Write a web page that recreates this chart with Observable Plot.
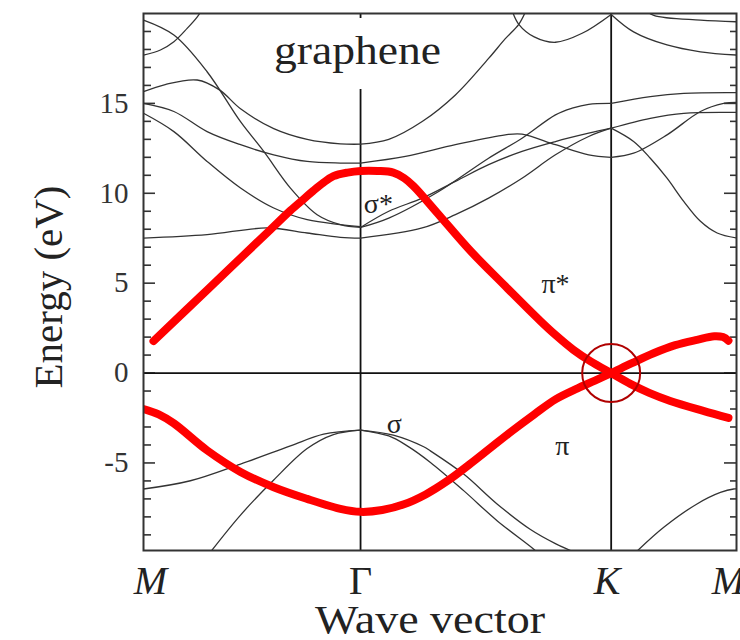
<!DOCTYPE html>
<html>
<head>
<meta charset="utf-8">
<script src="https://cdn.jsdelivr.net/npm/d3@7"></script>
<script src="https://cdn.jsdelivr.net/npm/@observablehq/plot@0.6"></script>
<style>
  body { margin: 0; background: #fff; }
  #chart svg { display: block; }
</style>
</head>
<body>
<div id="chart"></div>
<script>
// Path through the Brillouin zone: M – Γ – K – M (k in units of |ΓM|)
const symPos = [0, 1, 2.1547, 2.7321];
const symLabels = ["M", "Γ", "K", "M"];

// Energy axis (eV)
const energyTicks = [-5, 0, 5, 10, 15];
const minorTicks = [-9, -8, -7, -6, -4, -3, -2, -1, 1, 2, 3, 4, 6, 7, 8, 9,
                    11, 12, 13, 14, 16, 17, 18, 19];

// Band segments, [k, E] pairs — M–Γ
const mgA = [[0, 19.63], [0.14, 18.8], [0.293, 16.76], [0.447, 13.98], [0.554, 12.33], [0.677, 10.29], [0.8, 8.81], [0.907, 8.26], [1, 8.1]];
const mgB = [[0, 17.69], [0.078, 17.97], [0.14, 18.43], [0.201, 19.17], [0.247, 19.8], [0.275, 20.3]];
const mgC = [[0, 15.65], [0.1, 16.05], [0.247, 16.3], [0.35, 15.75], [0.447, 14.7], [0.6, 13.6], [0.754, 13.0], [0.907, 12.75], [1, 12.73]];
const mgD = [[0, 15.0], [0.14, 14.55], [0.293, 13.43], [0.447, 12.7], [0.6, 12.14], [0.754, 11.77], [0.907, 11.68], [1, 11.68]];
const mgE = [[0, 14.45], [0.14, 13.43], [0.293, 11.77], [0.447, 10.29], [0.6, 9.18], [0.754, 8.53], [0.907, 8.26], [1, 8.15]];
const mgF = [[0, 7.51], [0.293, 7.7], [0.57, 8.07], [0.754, 7.79], [0.907, 7.55], [1, 7.51]];
const mgS1 = [[0, -6.45], [0.216, -5.99], [0.447, -5.06], [0.677, -4.05], [0.83, -3.4], [1, -3.17]];
const mgS2 = [[0.309, -9.95], [0.447, -7.9], [0.6, -5.95], [0.754, -4.2], [0.875, -3.42], [1, -3.17]];

// Γ–K
const gkC = [[1, 12.73], [1.13, 13.0], [1.284, 13.99], [1.437, 15.47], [1.59, 17.5], [1.667, 18.6], [1.729, 19.4], [1.76, 20.1]];
const gkG = [[1.7, 20.1], [1.729, 19.4], [1.8, 18.7], [1.898, 18.4], [2.021, 18.9], [2.1547, 19.95]];
const gkD = [[1, 11.68], [1.207, 12.05], [1.437, 12.7], [1.667, 13.25], [1.744, 13.29], [1.898, 12.7], [2.051, 12.14], [2.1547, 12.0]];
const gkF = [[1, 7.51], [1.284, 8.07], [1.437, 8.81], [1.59, 9.73], [1.744, 10.84], [1.898, 12.14], [2.051, 13.16], [2.1547, 13.62]];
const gkE1 = [[1, 8.1], [1.13, 9.0], [1.284, 9.73], [1.437, 10.66], [1.59, 11.59], [1.744, 12.33], [1.898, 12.88], [2.051, 13.34], [2.1547, 13.62]];
const gkE2 = [[1, 8.1], [1.13, 8.62], [1.36, 10.1], [1.59, 11.95], [1.744, 13.06], [1.898, 14.36], [1.975, 14.73], [2.051, 14.95], [2.1547, 15.0]];
const gkS1 = [[1, -3.17], [1.151, -3.45], [1.291, -4.1], [1.322, -4.33], [1.475, -5.62], [1.629, -7.28], [1.783, -8.7], [1.9, -9.5], [1.982, -9.95]];
const gkS2 = [[1, -3.17], [1.13, -3.5], [1.215, -4.05], [1.322, -4.97], [1.475, -6.54], [1.629, -8.21], [1.798, -9.8], [1.81, -9.95]];

// K–M
const kmG = [[2.1547, 19.95], [2.258, 18.98], [2.412, 18.25], [2.566, 17.87], [2.7321, 17.69]];
const kmH = [[2.3, 20.3], [2.351, 19.9], [2.566, 19.63], [2.7321, 19.54]];
const kmE2 = [[2.1547, 15.0], [2.335, 15.38], [2.489, 15.56], [2.7321, 15.6]];
const kmX = [[2.1547, 13.62], [2.335, 14.17], [2.489, 14.45], [2.7321, 14.5]];
const kmF = [[2.1547, 13.62], [2.258, 12.88], [2.335, 11.95], [2.412, 10.84], [2.489, 9.55], [2.566, 8.44], [2.643, 7.79], [2.7321, 7.51]];
const kmD = [[2.1547, 12.0], [2.258, 12.23], [2.412, 13.25], [2.566, 14.55], [2.673, 15.0], [2.7321, 15.06]];
const kmS = [[2.27, -9.95], [2.397, -8.58], [2.55, -7.28], [2.658, -6.64], [2.719, -6.45], [2.7321, -6.45]];

// Highlighted π / π* (and σ*) bands
const redUpper = [[0.046, 1.78], [0.3, 4.7], [0.585, 7.98], [0.677, 9.04], [0.74, 9.7], [0.783, 10.15], [0.83, 10.6],
  [0.875, 10.95], [0.94, 11.15], [1, 11.24], [1.08, 11.24], [1.151, 11.15], [1.2, 10.85], [1.244, 10.4],
  [1.354, 8.9], [1.506, 6.8], [1.658, 4.94], [1.829, 2.89], [1.9, 2.1], [1.98, 1.3], [2.06, 0.65], [2.1547, 0],
  [2.243, -0.6], [2.33, -1.1], [2.427, -1.55], [2.579, -2.1], [2.695, -2.49]];
const redLower = [[0, -2.0], [0.07, -2.3], [0.14, -2.8], [0.293, -4.3], [0.447, -5.5], [0.6, -6.35], [0.754, -7.0],
  [0.907, -7.55], [1, -7.72], [1.1, -7.62], [1.2, -7.3], [1.3, -6.75], [1.4, -6.0], [1.5, -5.1], [1.6, -4.15],
  [1.7, -3.2], [1.8, -2.3], [1.9, -1.45], [2.0, -0.85], [2.08, -0.42], [2.1547, 0], [2.25, 0.55], [2.35, 1.1],
  [2.45, 1.55], [2.55, 1.85], [2.63, 2.05], [2.67, 2.0], [2.695, 1.8]];

// Band labels
const bandNames = ["σ*", "π*", "σ", "π"];
const bandNameK = [1.082, 1.898, 1.156, 1.93];
const bandNameE = [9.38, 4.94, -2.82, -4.05];

const toRows = (segments) => Object.entries(segments)
  .flatMap(([band, pts]) => pts.map(([k, E]) => ({band, k, E})));

const blackRows = toRows({mgA, mgB, mgC, mgD, mgE, mgF, mgS1, mgS2,
  gkC, gkG, gkD, gkF, gkE1, gkE2, gkS1, gkS2,
  kmG, kmH, kmE2, kmX, kmF, kmD, kmS});
const redRows = toRows({redUpper, redLower});
const nameRows = bandNames.map((text, i) => ({text, k: bandNameK[i], E: bandNameE[i]}));

const serif = "'Liberation Serif', 'Times New Roman', Times, serif";
const plotW = 740 - 143 - 4;

const chart = Plot.plot({
  width: 740,
  height: 640,
  marginLeft: 143,
  marginRight: 4,
  marginTop: 13,
  marginBottom: 90,
  style: {fontFamily: serif, background: "#fff", color: "#222"},
  x: {domain: [0, 2.7321], axis: null},
  y: {domain: [-9.87, 20], axis: null},
  marks: [
    // energy ticks, drawn inward on both sides
    Plot.ruleY(minorTicks, {insetRight: plotW - 8, stroke: "#333", strokeWidth: 1.6}),
    Plot.ruleY(minorTicks, {insetLeft: plotW - 6, stroke: "#333", strokeWidth: 1.6}),
    Plot.ruleY(energyTicks, {insetRight: plotW - 12, stroke: "#333", strokeWidth: 1.6}),
    Plot.ruleY(energyTicks, {insetLeft: plotW - 12, stroke: "#333", strokeWidth: 1.6}),
    // Fermi level and symmetry-point guides
    Plot.ruleY([0], {stroke: "#111", strokeWidth: 1.8}),
    Plot.ruleX([symPos[2]], {stroke: "#111", strokeWidth: 1.8}),
    Plot.ruleX([symPos[1]], {insetTop: 76, stroke: "#111", strokeWidth: 1.8}),
    Plot.ruleX([symPos[1]], {insetBottom: 532, stroke: "#111", strokeWidth: 1.8}),
    // band structure
    Plot.line(blackRows, {x: "k", y: "E", z: "band", curve: "catmull-rom", stroke: "#333", strokeWidth: 1.3, clip: true}),
    Plot.line(redRows, {x: "k", y: "E", z: "band", curve: "catmull-rom", stroke: "#ff0000", strokeWidth: 8, clip: true}),
    // Dirac point
    Plot.dot([{k: symPos[2], E: 0}], {x: "k", y: "E", r: 29, stroke: "#b00000", strokeWidth: 2, fill: "none"}),
    Plot.frame({stroke: "#333", strokeWidth: 2}),
    // labels
    Plot.text(nameRows, {x: "k", y: "E", text: "text", fontSize: 28, fill: "#222"}),
    Plot.text(energyTicks, {y: d => d, text: d => String(d), frameAnchor: "left", textAnchor: "end", dx: -15, fontSize: 29, fill: "#333"}),
    Plot.text(["graphene"], {x: symPos[1], frameAnchor: "top", lineAnchor: "bottom", dy: 50, dx: -3, fontSize: 40, fill: "#222"}),
    Plot.text([symLabels[0]], {x: symPos[0], frameAnchor: "bottom", lineAnchor: "bottom", dy: 43, dx: 7, fontSize: 40, fontStyle: "italic", fill: "#222"}),
    Plot.text([symLabels[1]], {x: symPos[1], frameAnchor: "bottom", lineAnchor: "bottom", dy: 43, fontSize: 40, fill: "#222"}),
    Plot.text([symLabels[2]], {x: symPos[2], frameAnchor: "bottom", lineAnchor: "bottom", dy: 43, dx: -4, fontSize: 40, fontStyle: "italic", fill: "#222"}),
    Plot.text([symLabels[3]], {x: symPos[3], frameAnchor: "bottom", lineAnchor: "bottom", dy: 43, dx: -8, fontSize: 40, fontStyle: "italic", fill: "#222"}),
    Plot.text(["Wave vector"], {frameAnchor: "bottom", lineAnchor: "bottom", dy: 82, dx: -10, fontSize: 40, fill: "#222"}),
    Plot.text(["Energy (eV)"], {frameAnchor: "left", textAnchor: "middle", rotate: -90, dx: -95, dy: 5, fontSize: 41, fill: "#222"})
  ]
});

// widen the large serif captions to their printed lengths
d3.select(chart).selectAll("text").each(function () {
  const t = this.textContent;
  if (t === "graphene") d3.select(this).attr("textLength", 167).attr("lengthAdjust", "spacingAndGlyphs");
  if (t === "Wave vector") d3.select(this).attr("textLength", 230).attr("lengthAdjust", "spacingAndGlyphs");
});

document.getElementById("chart").append(chart);
</script>
</body>
</html>
